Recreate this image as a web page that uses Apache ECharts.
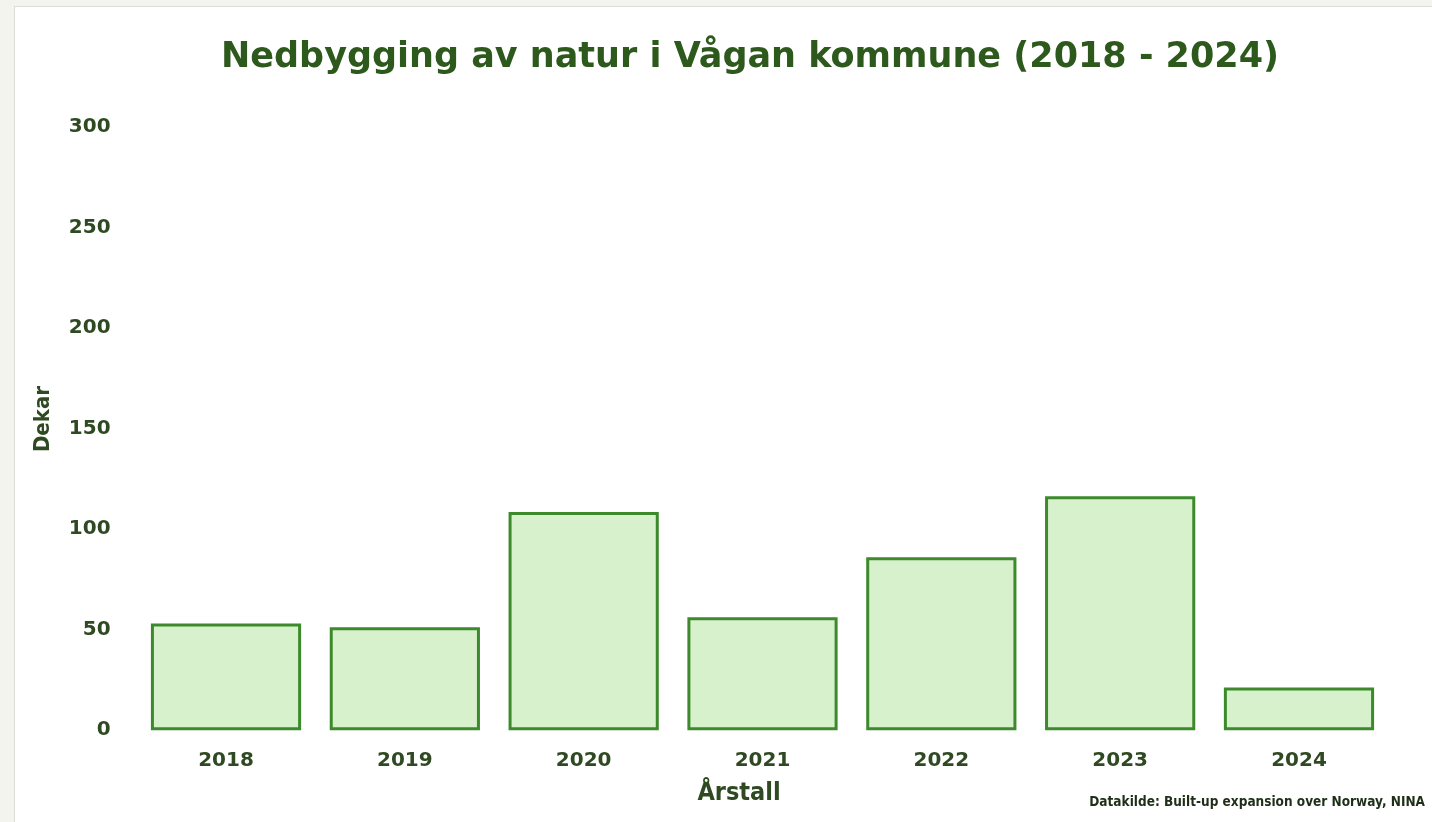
<!DOCTYPE html>
<html>
<head>
<meta charset="utf-8">
<script src="https://cdn.jsdelivr.net/npm/echarts@6/dist/echarts.min.js"></script>
<style>
  html, body { margin: 0; padding: 0; background: #f4f4ef; }
  #panel { position: absolute; left: 14px; top: 6px; width: 1440px; height: 840px; background: #ffffff; border: 1px solid #dcdcd6; }
  #chart { position: absolute; left: 0; top: 0; width: 1432px; height: 822px; }
</style>
</head>
<body>
<div id="panel"></div>
<div id="chart"></div>
<script>
const categories = ['2018', '2019', '2020', '2021', '2022', '2023', '2024'];
const values = [53.1, 51.2, 108.5, 56.2, 86.1, 116.4, 21.2];
const yTicks = { min: 0, max: 300, interval: 50 };
const titleText = 'Nedbygging av natur i Vågan kommune (2018 - 2024)';
const xName = 'Årstall';
const yName = 'Dekar';
const sourceText = 'Datakilde: Built-up expansion over Norway, NINA';

const dark = '#2d5a1c';
const labelColor = '#2f4a22';
const wide = '"DejaVu Sans", Verdana, sans-serif';
const narrow = '"DejaVu Sans Condensed", "Liberation Sans Narrow", sans-serif';

const chart = echarts.init(document.getElementById('chart'), null, { renderer: 'canvas' });
chart.setOption({
  backgroundColor: 'transparent',
  animation: false,
  title: [
    { text: titleText, left: 750, top: 40, textAlign: 'center', padding: 0,
      textStyle: { fontFamily: wide, fontWeight: 'bold', fontSize: 35, color: dark } },
    { text: xName, left: 739, top: 781, textAlign: 'center', padding: 0,
      textStyle: { fontFamily: narrow, fontWeight: 'bold', fontSize: 25, color: labelColor } },
    { text: sourceText, left: 1425, top: 795, textAlign: 'right', padding: 0,
      textStyle: { fontFamily: narrow, fontWeight: 'bold', fontSize: 13.5, color: '#1e2e18' } }
  ],
  graphic: [
    { type: 'text', x: 43, y: 419, rotation: Math.PI / 2,
      style: { text: yName, align: 'center', verticalAlign: 'middle',
        font: 'bold 22px "DejaVu Sans Condensed", sans-serif', fill: labelColor } }
  ],
  grid: { left: 136.6, right: 43.6, top: 127.2, bottom: 91.8, containLabel: false },
  xAxis: {
    type: 'category',
    data: categories,
    axisLine: { show: false },
    axisTick: { show: false },
    axisLabel: { margin: 21, fontFamily: wide, fontWeight: 'bold', fontSize: 20, color: labelColor }
  },
  yAxis: {
    type: 'value',
    min: yTicks.min, max: yTicks.max, interval: yTicks.interval,
    axisLine: { show: false },
    axisTick: { show: false },
    splitLine: { show: false },
    axisLabel: { margin: 26, fontFamily: wide, fontWeight: 'bold', fontSize: 20, color: labelColor }
  },
  series: [{
    type: 'bar',
    data: values,
    barCategoryGap: '16%',
    itemStyle: { color: '#d7f1cd', borderColor: '#3d8a2c', borderWidth: 3 }
  }]
});
</script>
</body>
</html>
